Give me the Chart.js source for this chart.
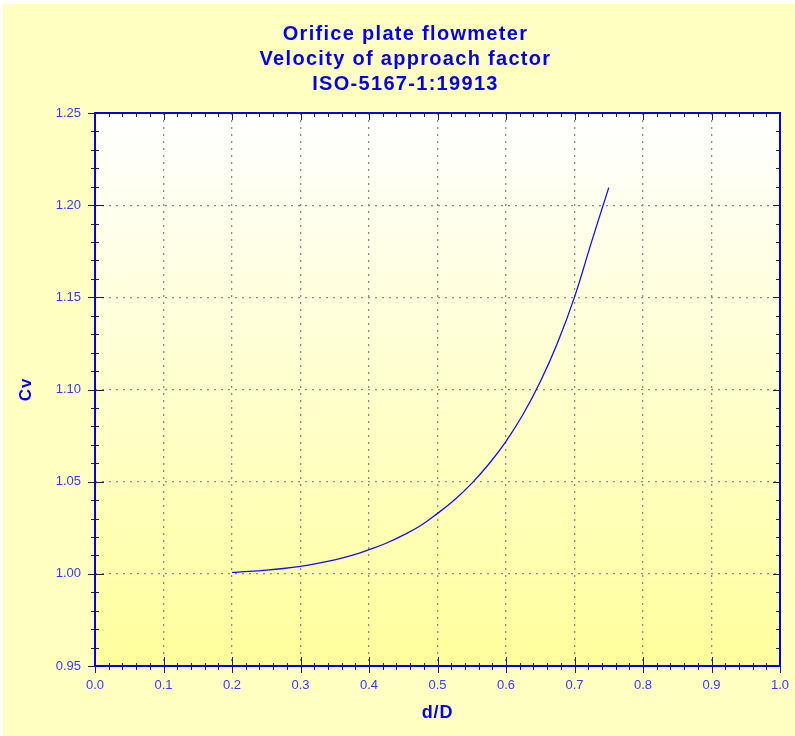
<!DOCTYPE html>
<html><head><meta charset="utf-8">
<script src="https://cdn.jsdelivr.net/npm/chart.js@4"></script>
<style>html,body{margin:0;padding:0;background:#fff;}#wrap{width:795px;height:736px;}</style>
</head><body><div id="wrap"><canvas id="c" width="795" height="736"></canvas></div>
<script>
const titleLines = ['Orifice plate flowmeter', 'Velocity of approach factor', 'ISO-5167-1:19913'];
const xTitle = 'd/D';
const yTitle = 'Cv';
const diameterRatio = [0.200,0.225,0.250,0.275,0.300,0.325,0.350,0.375,0.400,0.425,0.450,0.475,0.500,0.525,0.550,0.575,0.600,0.625,0.650,0.675,0.700,0.725,0.750];
const cvValues = [1.0008,1.0013,1.0020,1.0029,1.0041,1.0057,1.0076,1.0100,1.0131,1.0166,1.0210,1.0261,1.0328,1.0402,1.0491,1.0596,1.0719,1.0866,1.1042,1.1251,1.1501,1.1802,1.2095];
const xRange = [0, 1], xMajor = 0.1, xMinor = 0.02;
const yRange = [0.95, 1.25], yMajor = 0.05, yMinor = 0.01;

const blue = '#0000EE';
const labelBlue = '#3838F8';
const fam = 'Arial, "Liberation Sans", sans-serif';

const bgPlugin = {
  id: 'bg',
  beforeDraw(chart) {
    const {ctx, chartArea: a, width, height} = chart;
    ctx.save();
    ctx.fillStyle = '#FFFFC2';
    ctx.fillRect(0, 0, width, height);
    ctx.fillStyle = '#FFFFFF';
    ctx.fillRect(0, 0, width, 4);
    ctx.fillRect(0, 0, 3, height);
    const g = ctx.createLinearGradient(0, a.top, 0, a.bottom);
    g.addColorStop(0, '#FFFFFF');
    g.addColorStop(1, '#FFFF9C');
    ctx.fillStyle = g;
    ctx.fillRect(a.left, a.top, a.right - a.left, a.bottom - a.top);
    ctx.restore();
  },
  afterDraw(chart) {
    const {ctx, chartArea: a} = chart;
    const xs = chart.scales.x, ys = chart.scales.y;
    ctx.save();
    ctx.strokeStyle = '#222';
    ctx.lineWidth = 1;
    ctx.beginPath();
    const nx = Math.round((xRange[1] - xRange[0]) / xMinor);
    for (let i = 0; i <= nx; i++) {
      const v = xRange[0] + i * xMinor;
      const major = i % Math.round(xMajor / xMinor) === 0;
      const px = Math.round(xs.getPixelForValue(v)) + 0.5;
      ctx.moveTo(px, a.bottom + (major ? 7 : 4));
      ctx.lineTo(px, a.bottom - (major ? 9 : 3));
      ctx.moveTo(px, a.top);
      ctx.lineTo(px, a.top + (major ? 7 : 4));
    }
    const ny = Math.round((yRange[1] - yRange[0]) / yMinor);
    for (let i = 0; i <= ny; i++) {
      const v = yRange[0] + i * yMinor;
      const major = i % Math.round(yMajor / yMinor) === 0;
      const py = Math.round(ys.getPixelForValue(v)) + 0.5;
      ctx.moveTo(a.left - (major ? 7 : 4), py);
      ctx.lineTo(a.left + (major ? 9 : 4), py);
      ctx.moveTo(a.right, py);
      ctx.lineTo(a.right - (major ? 7 : 4), py);
    }
    ctx.stroke();
    ctx.strokeStyle = blue;
    ctx.lineWidth = 2;
    ctx.strokeRect(a.left, a.top, a.right - a.left, a.bottom - a.top);
    ctx.restore();
  }
};

const chart = new Chart(document.getElementById('c'), {
  type: 'scatter',
  data: {
    datasets: [{
      data: diameterRatio.map((x, i) => ({x, y: cvValues[i]})),
      showLine: true,
      borderColor: '#1010F0',
      borderWidth: 1.3,
      pointRadius: 0,
      tension: 0.4
    }]
  },
  options: {
    responsive: false,
    animation: false,
    devicePixelRatio: 1,
    layout: {padding: {left: 0, right: 0, top: 0, bottom: 0}},
    plugins: {
      legend: {display: false},
      tooltip: {enabled: false},
      title: {
        display: true,
        text: titleLines,
        color: blue,
        font: {family: fam, size: 20, weight: 'bold', lineHeight: 1.25},
        padding: {top: 22, bottom: 16}
      }
    },
    scales: {
      x: {
        type: 'linear',
        min: xRange[0], max: xRange[1],
        ticks: {
          stepSize: xMajor,
          color: labelBlue,
          font: {family: fam, size: 13},
          padding: 12,
          callback: v => Number(v).toFixed(1)
        },
        grid: {color: '#8a8a80', lineWidth: 1.3, drawTicks: false},
        border: {display: false, dash: [2, 5]},
        title: {
          display: true, text: xTitle, color: blue,
          font: {family: fam, size: 18, weight: 'bold'},
          padding: {top: 8, bottom: 12}
        },
        afterFit(scale) { scale.height = 70; scale.paddingRight = 15; }
      },
      y: {
        type: 'linear',
        min: yRange[0], max: yRange[1],
        ticks: {
          stepSize: yMajor,
          color: labelBlue,
          font: {family: fam, size: 13},
          padding: 14,
          callback: v => Number(v).toFixed(2)
        },
        grid: {color: '#8a8a80', lineWidth: 1.3, drawTicks: false},
        border: {display: false, dash: [2, 5]},
        title: {
          display: true, text: yTitle, color: blue,
          font: {family: fam, size: 17, weight: 'bold'},
          padding: {top: 16, bottom: 0}
        },
        afterFit(scale) { scale.width = 95; }
      }
    }
  },
  plugins: [bgPlugin]
});

// wider letter spacing for titles, as in the reference
const tb = chart.titleBlock;
const tbDraw = tb.draw.bind(tb);
tb.draw = function () {
  const c = this.ctx; c.save(); c.letterSpacing = '1.3px'; c.translate(8, 0); tbDraw(); c.restore();
};
['x', 'y'].forEach(id => {
  const s = chart.scales[id];
  const dt = s.drawTitle.bind(s);
  s.drawTitle = function (a) { const c = this.ctx; c.save(); c.letterSpacing = '0.8px'; dt(a); c.restore(); };
});
chart.draw();
</script>
</body></html>
